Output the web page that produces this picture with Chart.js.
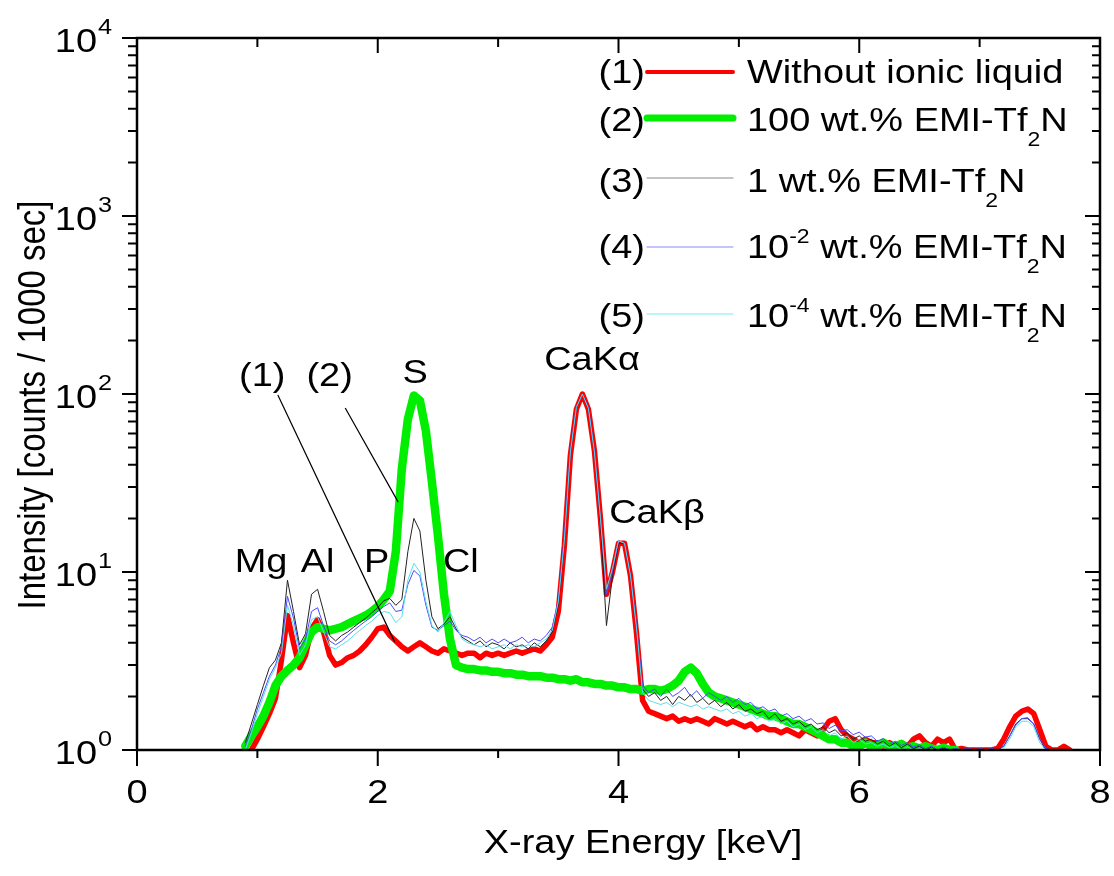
<!DOCTYPE html>
<html>
<head>
<meta charset="utf-8">
<script src="https://cdn.jsdelivr.net/npm/chart.js@4.4.1/dist/chart.umd.min.js"></script>
<style>
  html, body { margin: 0; padding: 0; background: #fff; }
  canvas { display: block; }
</style>
</head>
<body>
<canvas id="chartXrf" width="1114" height="876"></canvas>
<script>
// X-ray energy grid (keV) shared by every spectrum
const energias = [
  0.90, 0.95, 1.00, 1.05, 1.10, 1.15, 1.20, 1.25, 1.30, 1.35,
  1.40, 1.45, 1.50, 1.55, 1.60, 1.65, 1.70, 1.75, 1.80, 1.85,
  1.90, 1.95, 2.00, 2.05, 2.10, 2.15, 2.20, 2.25, 2.30, 2.35,
  2.40, 2.45, 2.50, 2.55, 2.60, 2.65, 2.70, 2.75, 2.80, 2.85,
  2.90, 2.95, 3.00, 3.05, 3.10, 3.15, 3.20, 3.25, 3.30, 3.35,
  3.40, 3.45, 3.50, 3.55, 3.60, 3.65, 3.70, 3.75, 3.80, 3.85,
  3.90, 3.95, 4.00, 4.05, 4.10, 4.15, 4.20, 4.25, 4.30, 4.35,
  4.40, 4.45, 4.50, 4.55, 4.60, 4.65, 4.70, 4.75, 4.80, 4.85,
  4.90, 4.95, 5.00, 5.05, 5.10, 5.15, 5.20, 5.25, 5.30, 5.35,
  5.40, 5.45, 5.50, 5.55, 5.60, 5.65, 5.70, 5.75, 5.80, 5.85,
  5.90, 5.95, 6.00, 6.05, 6.10, 6.15, 6.20, 6.25, 6.30, 6.35,
  6.40, 6.45, 6.50, 6.55, 6.60, 6.65, 6.70, 6.75, 6.80, 6.85,
  6.90, 6.95, 7.00, 7.05, 7.10, 7.15, 7.20, 7.25, 7.30, 7.35,
  7.40, 7.45, 7.50, 7.55, 7.60, 7.65, 7.70, 7.75
];

// (1) Without ionic liquid
const sinLiquido = [
  null, 1.0, 1.15, 1.35, 1.6, 1.95, 3.2, 5.7, 4.0, 2.9,
  3.4, 4.8, 5.4, 4.6, 3.4, 3.0, 3.1, 3.3, 3.4, 3.6,
  3.9, 4.3, 4.8, 4.9, 4.4, 4.1, 3.8, 3.6, 3.8, 4.0,
  3.8, 3.6, 3.5, 3.7, 3.6, 3.5, 3.4, 3.5, 3.5, 3.3,
  3.5, 3.4, 3.5, 3.4, 3.5, 3.6, 3.5, 3.6, 3.7, 3.6,
  3.9, 4.3, 6, 14, 45, 82, 100, 82, 48, 20,
  7.5, 10, 14.5, 14.5, 9.5, 4.5, 1.9, 1.65, 1.6, 1.55,
  1.5, 1.55, 1.45, 1.5, 1.45, 1.5, 1.45, 1.4, 1.5, 1.45,
  1.4, 1.45, 1.4, 1.35, 1.4, 1.3, 1.35, 1.3, 1.3, 1.25,
  1.3, 1.25, 1.2, 1.3, 1.25, 1.2, 1.3, 1.45, 1.5, 1.3,
  1.2, 1.15, 1.1, 1.15, 1.1, 1.1, 1.05, 1.1, 1.05, 1.1,
  1.05, 1.15, 1.2, 1.1, 1.05, 1.15, 1.1, 1.15, 1.0, 1.02,
  1.0, 1.0, 1.0, 1.0, 1.0, 1.02, 1.15, 1.35, 1.55, 1.65,
  1.7, 1.6, 1.3, 1.05, 1.0, 1.0, 1.05, 1.0
];

// (2) 100 wt.% EMI-Tf2N
const emi100 = [
  1.05, 1.2, 1.35, 1.55, 1.85, 2.3, 2.6, 2.8, 3.0, 3.3,
  3.9, 4.6, 4.9, 4.8, 4.7, 4.8, 4.9, 5.1, 5.3, 5.5,
  5.7, 6.0, 6.4, 7.0, 7.8, 13, 38, 72, 98, 92,
  62, 32, 16, 7.5, 4.2, 3.0, 2.9, 2.85, 2.85, 2.8,
  2.8, 2.75, 2.75, 2.7, 2.7, 2.65, 2.65, 2.6, 2.6, 2.6,
  2.55, 2.55, 2.5, 2.5, 2.45, 2.5, 2.4, 2.4, 2.35, 2.35,
  2.3, 2.3, 2.25, 2.25, 2.2, 2.2, 2.15, 2.2, 2.2, 2.15,
  2.2, 2.3, 2.45, 2.75, 2.9, 2.7, 2.35, 2.1, 2.0, 1.95,
  1.9, 1.85, 1.8, 1.75, 1.7, 1.65, 1.6, 1.55, 1.55, 1.5,
  1.45, 1.4, 1.4, 1.35, 1.3, 1.25, 1.2, 1.15, 1.15, 1.1,
  1.1, 1.05, 1.05, 1.1, 1.05, 1.05, 1.1, 1.05, 1.05, 1.08,
  1.03, 1.05, 1.02, 1.05, 1.02, 1.0, 1.03, 1.0, 1.0, null,
  null, null, null, null, null, null, null, null, null, null,
  null, null, null, null, null, null, null, null
];

// (3) 1 wt.% EMI-Tf2N
const emi1 = [
  1.1, 1.4, 1.8, 2.3, 2.9, 3.2, 4.0, 9.0, 6.0, 3.9,
  4.5, 7.5, 8.0, 6.0, 4.4, 4.1, 4.4, 4.6, 4.9, 5.2,
  5.5, 5.9, 6.3, 6.9, 7.1, 6.5, 7.0, 13, 20, 17,
  9, 5.6, 4.8, 5.1, 5.6, 4.8, 4.3, 4.1, 3.9, 4.1,
  3.8, 4.0, 3.9, 3.7, 4.0, 3.8, 3.9, 3.7, 4.0, 3.8,
  4.1, 4.6, 6.5, 15, 47, 84, 100, 84, 47, 19,
  5.0, 9.5, 14.5, 14.5, 9.5, 4.8, 2.2, 2.0, 2.1, 1.9,
  2.0, 1.8, 2.0, 1.9, 2.05, 1.85, 1.95, 1.8, 1.9, 1.75,
  1.85, 1.7, 1.8, 1.65, 1.7, 1.6, 1.65, 1.5, 1.6, 1.45,
  1.5, 1.4, 1.45, 1.35, 1.4, 1.3, 1.35, 1.25, 1.3, 1.2,
  1.25, 1.15, 1.2, 1.12, 1.15, 1.08, 1.12, 1.05, 1.1, 1.03,
  1.08, 1.02, 1.05, 1.0, 1.04, 1.0, 1.02, 1.0, 1.0, 1.0,
  1.0, 1.0, 1.0, 1.0, 1.0, 1.0, 1.05, 1.2, 1.4, 1.5,
  1.5, 1.4, 1.15, 1.0, null, null, null, null
];

// (4) 10^-2 wt.% EMI-Tf2N
const emi1e2 = [
  1.05, 1.3, 1.7, 2.1, 2.6, 3.0, 3.8, 7.3, 5.5, 3.7,
  4.2, 6.0, 6.3, 5.0, 4.1, 3.9, 4.1, 4.4, 4.7, 5.0,
  5.3, 5.6, 6.0, 6.4, 6.7, 6.0, 6.1, 8.5, 10.2, 9.5,
  6.5, 4.9, 4.7, 5.0, 5.3, 4.7, 4.4, 4.3, 4.1, 4.3,
  4.0, 4.2, 4.0, 4.2, 4.0, 4.1, 4.3, 4.0, 4.2, 4.1,
  4.4, 4.9, 7, 16, 48, 85, 100, 84, 48, 20,
  7.5, 10, 15, 14.5, 9.5, 5.0, 2.3, 2.1, 2.2, 2.0,
  2.2, 2.0, 2.1, 2.25, 2.0, 2.15, 1.95, 2.1, 2.0, 1.9,
  2.0, 1.85, 1.95, 1.8, 1.85, 1.7, 1.75, 1.65, 1.7, 1.55,
  1.6, 1.5, 1.55, 1.45, 1.5, 1.4, 1.42, 1.32, 1.38, 1.28,
  1.3, 1.22, 1.26, 1.18, 1.2, 1.12, 1.16, 1.08, 1.12, 1.06,
  1.1, 1.04, 1.07, 1.02, 1.05, 1.0, 1.04, 1.0, 1.02, 1.0,
  1.03, 1.0, 1.02, 1.0, 1.02, 1.0, 1.05, 1.2, 1.38, 1.5,
  1.52, 1.4, 1.15, 1.02, 1.0, null, null, null
];

// (5) 10^-4 wt.% EMI-Tf2N
const emi1e4 = [
  1.0, 1.25, 1.6, 2.0, 2.5, 2.9, 3.5, 6.5, 5.0, 3.4,
  3.9, 5.4, 5.6, 4.6, 3.8, 3.7, 3.9, 4.1, 4.4, 4.7,
  5.0, 5.3, 5.7, 6.0, 5.9, 5.2, 5.6, 9, 11.2, 10,
  6.8, 5.0, 4.6, 5.2, 6.0, 5.0, 4.2, 4.0, 3.9, 3.8,
  3.9, 3.7, 3.8, 3.9, 3.7, 3.9, 3.8, 3.9, 3.8, 4.0,
  4.2, 4.7, 6.8, 15, 47, 84, 100, 83, 47, 20,
  8.0, 10.5, 15, 14.5, 9.5, 4.8, 2.1, 1.9, 1.85, 1.8,
  1.85, 1.75, 1.85, 1.8, 1.75, 1.8, 1.7, 1.75, 1.7, 1.65,
  1.7, 1.6, 1.65, 1.55, 1.6, 1.5, 1.55, 1.45, 1.5, 1.4,
  1.45, 1.35, 1.4, 1.3, 1.35, 1.25, 1.3, 1.2, 1.25, 1.15,
  1.2, 1.1, 1.15, 1.08, 1.1, 1.05, 1.08, 1.03, 1.06, 1.0,
  1.04, 1.0, 1.02, 1.0, 1.0, null, null, null, null, null,
  null, null, null, null, null, null, 1.03, 1.15, 1.35, 1.45,
  1.45, 1.35, 1.1, 1.0, null, null, null, null
];

// Axis ticks
const xMayores = [0, 2, 4, 6, 8];
const xMenores = [1, 3, 5, 7];
const yExponentes = [0, 1, 2, 3, 4];

// Peak labels (keV, counts at text baseline)
const etiquetas = [
  { t: 'Mg', e: 1.03, v: 10 },
  { t: 'Al', e: 1.50, v: 10 },
  { t: 'P', e: 1.99, v: 10 },
  { t: 'Cl', e: 2.69, v: 10 },
  { t: 'S', e: 2.31, v: 115 },
  { t: 'CaK\u03b1', e: 3.78, v: 136 },
  { t: 'CaK\u03b2', e: 4.32, v: 18.9 },
  { t: '(1)', e: 1.04, v: 111 },
  { t: '(2)', e: 1.60, v: 111 }
];
// leader lines from "(1)" and "(2)" to their curves
const guias = [
  { e1: 1.17, v1: 98.7, e2: 2.14, v2: 4.05 },
  { e1: 1.73, v1: 83.4, e2: 2.17, v2: 24.7 }
];

const FUENTE = "'Liberation Sans', Arial, sans-serif";
const SX = 1.15;   // the original figure is slightly stretched horizontally

function texto(ctx, s, x, y, size, align) {
    ctx.save();
    ctx.font = size + 'px ' + FUENTE;
    ctx.textAlign = align || 'left';
    ctx.textBaseline = 'alphabetic';
    ctx.fillStyle = '#000';
    ctx.translate(x, y);
    ctx.scale(SX, 1);
    ctx.fillText(s, 0, 0);
    ctx.restore();
}

function ancho(ctx, s, size) {
    ctx.save();
    ctx.font = size + 'px ' + FUENTE;
    const w = ctx.measureText(s).width * SX;
    ctx.restore();
    return w;
}

// text made of pieces: normal, 'sub' or 'sup'
function textoRico(ctx, partes, x, y, size) {
    let cx = x;
    partes.forEach(p => {
        let sz = size, dy = 0;
        if (p[1] === 'sub') { sz = 20; dy = 15; }
        if (p[1] === 'sup') { sz = 20; dy = -15; }
        texto(ctx, p[0], cx, y + dy, sz, 'left');
        cx += ancho(ctx, p[0], sz);
    });
}

const leyenda = [
  { n: '(1)', color: '#ff0000', w: 4, y: 72, base: 83, partes: [['Without ionic liquid']] },
  { n: '(2)', color: '#00ee00', w: 7, y: 118, base: 131, partes: [['100 wt.% EMI-Tf'], ['2', 'sub'], ['N']] },
  { n: '(3)', color: '#888888', w: 1, y: 178, base: 192, partes: [['1 wt.% EMI-Tf'], ['2', 'sub'], ['N']] },
  { n: '(4)', color: '#8888ff', w: 1, y: 247, base: 258, partes: [['10'], ['-2', 'sup'], [' wt.% EMI-Tf'], ['2', 'sub'], ['N']] },
  { n: '(5)', color: '#77eeee', w: 1, y: 314, base: 327, partes: [['10'], ['-4', 'sup'], [' wt.% EMI-Tf'], ['2', 'sub'], ['N']] }
];

const marcoPlugin = {
    id: 'marco',
    afterDraw(chart) {
        const ctx = chart.ctx;
        const a = chart.chartArea;
        const sx = chart.scales.x, sy = chart.scales.y;

        ctx.save();
        ctx.strokeStyle = '#000';
        // frame
        ctx.lineWidth = 2.5;
        ctx.strokeRect(a.left, a.top, a.right - a.left, a.bottom - a.top);

        // x ticks: outward at bottom, inward at top
        ctx.lineWidth = 2;
        ctx.beginPath();
        xMayores.forEach(v => {
            const px = sx.getPixelForValue(v);
            ctx.moveTo(px, a.bottom); ctx.lineTo(px, a.bottom + 16);
            ctx.moveTo(px, a.top); ctx.lineTo(px, a.top + 15);
        });
        xMenores.forEach(v => {
            const px = sx.getPixelForValue(v);
            ctx.moveTo(px, a.bottom); ctx.lineTo(px, a.bottom + 8);
            ctx.moveTo(px, a.top); ctx.lineTo(px, a.top + 9);
        });
        // y ticks: outward at left, inward at right
        yExponentes.forEach(k => {
            const base = Math.pow(10, k);
            const py = sy.getPixelForValue(base);
            ctx.moveTo(a.left - 15, py); ctx.lineTo(a.left, py);
            ctx.moveTo(a.right - 15, py); ctx.lineTo(a.right, py);
            if (k < 4) {
                for (let m = 2; m <= 9; m++) {
                    const pm = sy.getPixelForValue(base * m);
                    ctx.moveTo(a.left - 9, pm); ctx.lineTo(a.left, pm);
                    ctx.moveTo(a.right - 8, pm); ctx.lineTo(a.right, pm);
                }
            }
        });
        ctx.stroke();

        // tick labels
        xMayores.forEach(v => texto(ctx, String(v), sx.getPixelForValue(v), 803, 33, 'center'));
        yExponentes.forEach(k => {
            const py = sy.getPixelForValue(Math.pow(10, k));
            texto(ctx, '10', 97, py + 14, 33, 'right');
            texto(ctx, String(k), 98, py - 4, 22, 'left');
        });

        // axis titles
        texto(ctx, 'X-ray Energy [keV]', 643, 853, 33, 'center');
        ctx.save();
        ctx.translate(45, 405);
        ctx.rotate(-Math.PI / 2);
        ctx.scale(1, SX);
        ctx.font = '33px ' + FUENTE;
        ctx.textAlign = 'center';
        ctx.fillStyle = '#000';
        ctx.fillText('Intensity [counts / 1000 sec]', 0, 0);
        ctx.restore();

        // peak labels and leader lines
        etiquetas.forEach(l => texto(ctx, l.t, sx.getPixelForValue(l.e), sy.getPixelForValue(l.v), 33, 'center'));
        ctx.lineWidth = 1.2;
        ctx.beginPath();
        guias.forEach(g => {
            ctx.moveTo(sx.getPixelForValue(g.e1), sy.getPixelForValue(g.v1));
            ctx.lineTo(sx.getPixelForValue(g.e2), sy.getPixelForValue(g.v2));
        });
        ctx.stroke();

        // legend
        leyenda.forEach(r => {
            texto(ctx, r.n, 645, r.base, 33, 'right');
            ctx.strokeStyle = r.color;
            ctx.lineWidth = r.w;
            ctx.lineCap = 'round';
            ctx.beginPath();
            ctx.moveTo(647, r.y); ctx.lineTo(733, r.y);
            ctx.stroke();
            textoRico(ctx, r.partes, 747, r.base, 33);
        });
        ctx.restore();
    }
};

function serie(valores) {
    return energias.map((e, i) => ({ x: e, y: valores[i] }));
}

const ctxChart = document.getElementById('chartXrf').getContext('2d');
new Chart(ctxChart, {
    type: 'line',
    data: {
        datasets: [
            { label: 'Without ionic liquid', data: serie(sinLiquido), borderColor: '#ff0000', borderWidth: 5.5, order: 5 },
            { label: '100 wt.% EMI-Tf2N', data: serie(emi100), borderColor: '#00ee00', borderWidth: 8.5, order: 4 },
            { label: '1 wt.% EMI-Tf2N', data: serie(emi1), borderColor: '#222222', borderWidth: 1, order: 3 },
            { label: '10-2 wt.% EMI-Tf2N', data: serie(emi1e2), borderColor: '#4a4aff', borderWidth: 1, order: 2 },
            { label: '10-4 wt.% EMI-Tf2N', data: serie(emi1e4), borderColor: '#55e0ee', borderWidth: 1, order: 1 }
        ]
    },
    options: {
        responsive: false,
        animation: false,
        layout: { padding: { left: 137, top: 38, right: 14, bottom: 126 } },
        plugins: { legend: { display: false }, tooltip: { enabled: false } },
        datasets: { line: { clip: 0, pointRadius: 0, tension: 0, borderJoinStyle: 'round', borderCapStyle: 'round', spanGaps: false } },
        scales: {
            x: { type: 'linear', min: 0, max: 8, display: false },
            y: { type: 'logarithmic', min: 1, max: 10000, display: false }
        }
    },
    plugins: [marcoPlugin]
});
</script>
</body>
</html>
